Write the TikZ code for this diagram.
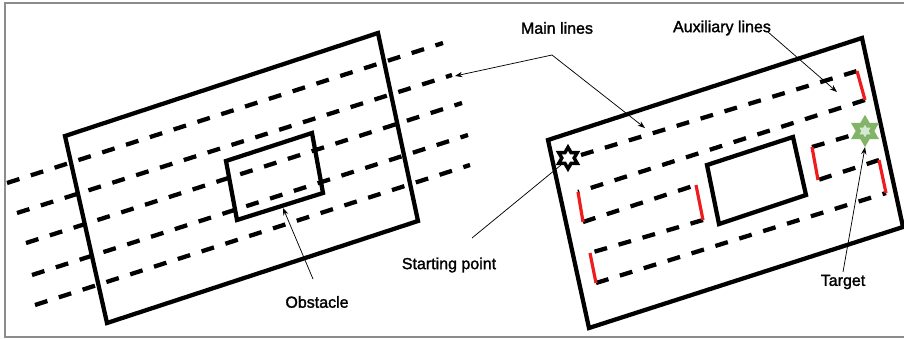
\documentclass[tikz,border=0pt]{standalone}
\usepackage{fontspec}
\setmainfont{Liberation Sans}
\usepackage{xcolor}
\usetikzlibrary{arrows.meta,shapes.geometric}
\definecolor{framegray}{HTML}{8C8C8C}
\definecolor{tgfill}{HTML}{D5E8D4}
\definecolor{tgdraw}{HTML}{82B366}
\definecolor{auxred}{HTML}{EE1C1C}
\tikzset{
  outline/.style={line width=3.2pt,line join=miter},
  mainline/.style={line width=3.2pt,dash pattern=on 9.75pt off 9pt},
  auxline/.style={auxred,line width=2.4pt},
  arr/.style={-{Stealth[length=5.5pt,width=4pt]},line width=0.55pt},
  lbl/.style={font=\fontsize{12}{14}\selectfont\addfontfeature{FakeBold=1.6},inner sep=1pt},
  hexstar/.style={star,star points=6,star point ratio=1.73,inner sep=0pt},
}

\begin{document}
\begin{tikzpicture}[x=0.75pt,y=-0.75pt]
\useasboundingbox (0,0) rectangle (904,339);
% page frame
\draw[framegray,line width=1.2pt] (904,3) -- (5,3) -- (5,337) -- (904,337);

% Left: area with main lines crossing an obstacle
\draw[outline] (65,136) -- (378,33) -- (418,221) -- (107,323) -- cycle;
\draw[outline] (226,161) -- (312,133) -- (323,193) -- (237,220) -- cycle;
\foreach \xa/\ya/\xb/\yb in {7/183/443/43, 17/213/452/75, 26/243/462/103,
                             32/275/468/135, 35/305/470/165}{
  \draw[mainline] (\xa,\ya) -- (\xb,\yb);
}

% Right: area with main and auxiliary lines around the obstacle
\draw[outline] (548,140) -- (862,38) -- (903,227) -- (589,328) -- cycle;
\draw[outline] (707,165) -- (793,137) -- (806,195) -- (719,224) -- cycle;
% turning points of the path
\coordinate (p0) at (581,155);
\coordinate (p1) at (857,71);
\coordinate (p2) at (865,100);
\coordinate (p3) at (578,192);
\coordinate (p4) at (583,222);
\coordinate (p5) at (696,185);
\coordinate (p6) at (703,220);
\coordinate (p7) at (590,253);
\coordinate (p8) at (596,283);
\coordinate (p9) at (886,193);
\coordinate (p10) at (879,160);
\coordinate (p11) at (818,180);
\coordinate (p12) at (812,147);
\coordinate (p13) at (856,134);
% main lines (black) and auxiliary lines (red)
\foreach \a/\b in {p0/p1, p2/p3, p4/p5, p6/p7, p8/p9, p10/p11, p12/p13}{
  \draw[mainline] (\a) -- (\b);
}
\foreach \a/\b in {p1/p2, p3/p4, p5/p6, p7/p8, p9/p10, p11/p12}{
  \draw[auxline] (\a) -- (\b);
}
\node[hexstar,draw=black,fill=white,line width=2.6pt,minimum size=16pt] (start) at (568,158) {};
\node[hexstar,draw=tgdraw,fill=tgfill,line width=3.6pt,minimum size=17pt] (target) at (865,131) {};

% labels and pointers
\node[lbl] (mainlbl) at (557,28) {Main lines};
\node[lbl] (auxlbl) at (722,28) {Auxiliary lines};
\node[lbl] (startlbl) at (449,265) {Starting point};
\node[lbl] (obslbl) at (317,302) {Obstacle};
\node[lbl] (tgtlbl) at (843,282) {Target};
\coordinate (mainknot) at (552,55);
\coordinate (mainleft) at (455,76);
\coordinate (mainright) at (645,128);
\coordinate (auxknot) at (768,32);
\coordinate (auxend) at (837,92);
\coordinate (startknot) at (472,238);
\coordinate (obsknot) at (313,279);
\coordinate (obsend) at (283,208);
\coordinate (tgtknot) at (843,272);
\draw[arr] (mainknot) -- (mainleft);
\draw[arr] (mainknot) -- (mainright);
\draw[arr] (auxknot) -- (auxend);
\draw[line width=0.55pt] (startknot) -- (start.south west);
\draw[arr] (obsknot) -- (obsend);
\draw[arr] (tgtknot) -- (target.south);
\end{tikzpicture}
\end{document}
